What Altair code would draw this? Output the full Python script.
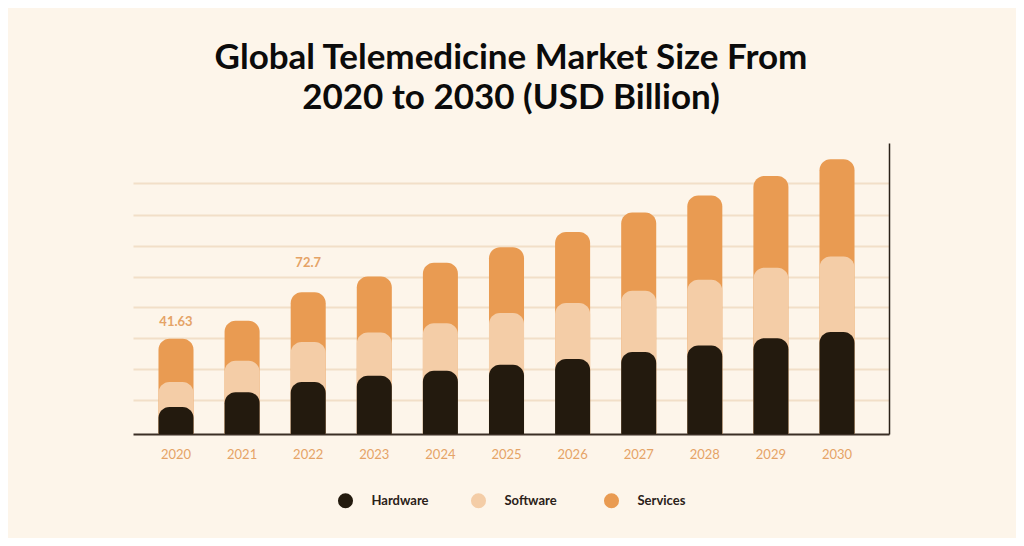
import altair as alt
import pandas as pd

years = ["2020", "2021", "2022", "2023", "2024", "2025", "2026", "2027", "2028", "2029", "2030"]
hardware = [11.8, 18.3, 22.7, 25.5, 27.6, 30.3, 32.8, 35.8, 38.7, 41.9, 44.6]
software = [10.9, 13.7, 17.5, 18.9, 20.8, 22.6, 24.5, 26.8, 28.7, 30.8, 33.0]
services = [18.93, 17.5, 21.8, 24.5, 26.5, 28.7, 31.0, 34.2, 36.8, 40.1, 42.5]
series_names = ["Hardware", "Software", "Services"]
series_colors = ["#231A0E", "#F4CDA7", "#E99B52"]
grid_values = [15.0, 28.4, 41.9, 55.5, 68.8, 82.3, 95.7, 109.6]
y_max = 127.2
label_years = ["2020", "2022"]
label_texts = ["41.63", "72.7"]

rows = []
for i, yr in enumerate(years):
    cum_hw = hardware[i]
    cum_sw = cum_hw + software[i]
    cum_sv = cum_sw + services[i]
    # draw order: largest (services) first so smaller stacked tops sit above
    rows.append({"year": yr, "series": "Services", "top": cum_sv, "z": 0})
    rows.append({"year": yr, "series": "Software", "top": cum_sw, "z": 1})
    rows.append({"year": yr, "series": "Hardware", "top": cum_hw, "z": 2})
df = pd.DataFrame(rows)

totals = {yr: hardware[i] + software[i] + services[i] for i, yr in enumerate(years)}
lab_df = pd.DataFrame({"year": label_years, "text": label_texts,
                       "top": [totals[y] for y in label_years]})

FONT = "Lato"

x_enc = alt.X("year:N", sort=years,
              scale=alt.Scale(paddingInner=0.47, paddingOuter=0.4535, align=0.425),
              axis=alt.Axis(title=None, labelAngle=0, ticks=False, domain=True,
                            domainColor="#3A2E25", domainWidth=2,
                            labelColor="#E5A366", labelFontSize=13, labelFont=FONT,
                            labelPadding=14, grid=False))

y_scale = alt.Scale(domain=[0, y_max], nice=False, zero=True)

bars = alt.Chart(df).mark_bar(cornerRadiusTopLeft=11, cornerRadiusTopRight=11).encode(
    x=x_enc,
    y=alt.Y("top:Q", stack=None, scale=y_scale,
            axis=alt.Axis(title=None, orient="right", labels=False, ticks=False,
                          domain=True, domainColor="#2A2118", domainWidth=1.5,
                          grid=True, gridColor="#F2DFC8", gridWidth=2,
                          values=grid_values)),
    color=alt.Color("series:N",
                    scale=alt.Scale(domain=series_names, range=series_colors),
                    legend=alt.Legend(title=None, orient="none", direction="horizontal",
                                      legendX=204.5, legendY=349.5,
                                      symbolType="circle", symbolSize=227,
                                      symbolStrokeWidth=0, symbolOpacity=1,
                                      labelFont=FONT, labelFontSize=13,
                                      labelColor="#2A2118", labelFontWeight="bold",
                                      labelOffset=18, columnPadding=41,
                                      gridAlign="all", padding=0)),
    order=alt.Order("z:Q"),
)

lab1 = alt.Chart(lab_df).transform_filter(alt.datum.year == "2020").mark_text(
    font=FONT, fontSize=13, fontWeight="bold", color="#E5A366", dy=-17, baseline="middle"
).encode(x=alt.X("year:N", sort=years), y=alt.Y("top:Q", scale=y_scale), text="text:N")

lab2 = alt.Chart(lab_df).transform_filter(alt.datum.year == "2022").mark_text(
    font=FONT, fontSize=13, fontWeight="bold", color="#E5A366", dy=-29, baseline="middle"
).encode(x=alt.X("year:N", sort=years), y=alt.Y("top:Q", scale=y_scale), text="text:N")

chart = alt.layer(bars, lab1, lab2).properties(
    width=756, height=291,
    title=alt.TitleParams(["Global Telemedicine Market Size From", "2020 to 2030 (USD Billion)"],
                          font=FONT, fontSize=35, fontWeight="bold", color="#0B0B0B",
                          lineHeight=40, anchor="middle", frame="group", offset=27),
    autosize=alt.AutoSizeParams(type="none"),
    padding={"left": 125, "top": 135, "right": 127, "bottom": 104},
).configure(background="#FDF5EA").configure_view(stroke=None)

chart.save("out.html", embed_options={"renderer": "svg", "actions": False})
